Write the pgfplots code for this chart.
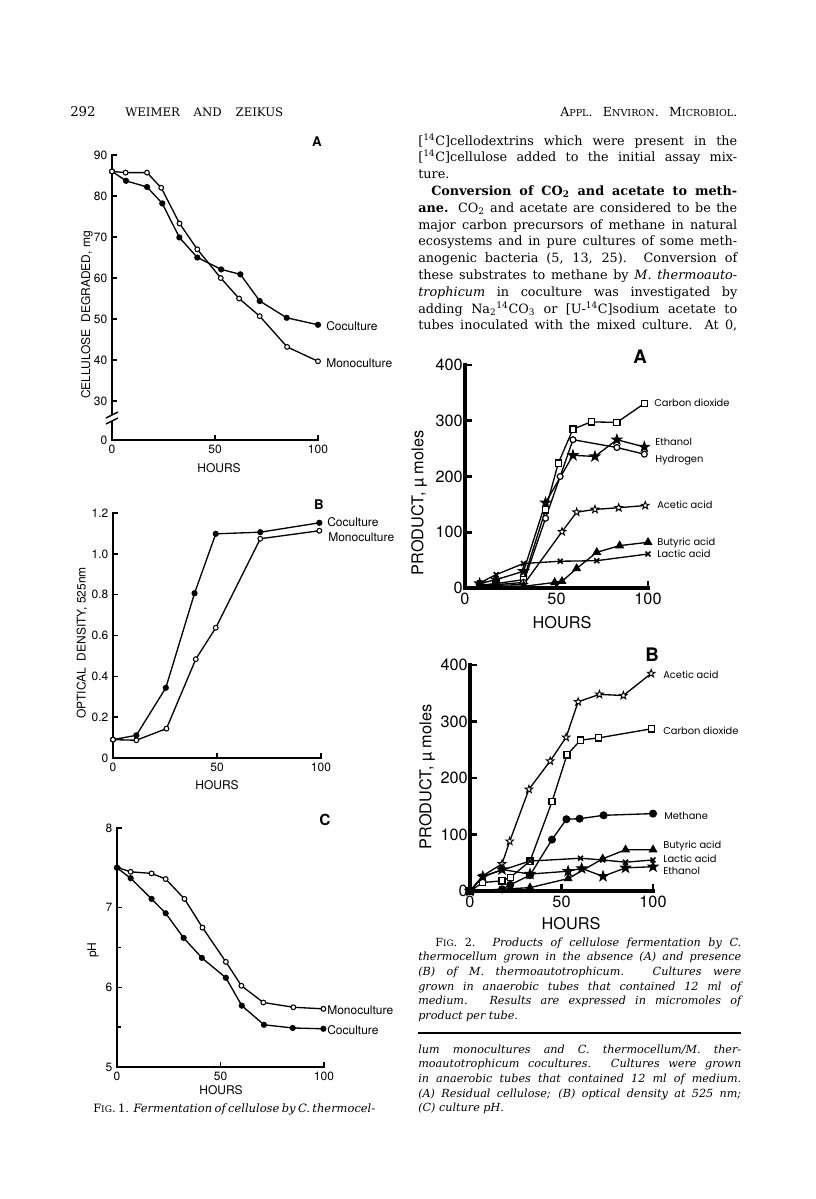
\documentclass[border=0pt]{standalone}
\usepackage{fontspec}
\setmainfont{DejaVu Serif}
\newfontfamily\heros{TeX Gyre Heros}
\newfontfamily\pop{Poppins}
\usepackage{graphicx}
\usepackage{pgfplots}
\pgfplotsset{compat=1.18}

% 1 px of the page = 0.75pt
\newdimen\pxu \pxu=0.75pt
\newsavebox\lb
% justified line: x, baseline y, width (px), text
\newcommand\jl[4]{%
  \sbox\lb{#4}%
  \ifdim\wd\lb>#3\pxu
    \pgfmathsetmacro\scf{(#3*0.75)/(\the\wd\lb)}%
    \node[anchor=base west,inner sep=0pt] at (#1,#2) {\scalebox{\scf}[1]{\usebox\lb}};%
  \else
    \node[anchor=base west,inner sep=0pt] at (#1,#2) {\makebox[#3\pxu][s]{#4}};%
  \fi}
\newcommand\lastl[3]{\node[anchor=base west,inner sep=0pt] at (#1,#2) {#3};}
\newcommand\bodyf{\fontsize{9.6}{12}\selectfont}
\newcommand\capf{\fontsize{8.4}{10}\selectfont\itshape}
\newcommand\fone{\heros\fontsize{9}{9}\selectfont}
\newcommand\ftwo{\heros\fontsize{12.2}{12.2}\selectfont}
\newcommand\flab{\pop\fontsize{7.4}{7.4}\selectfont}

\pgfdeclareplotmark{fstar}{%
  \pgfpathmoveto{\pgfpointpolar{90}{1.25\pgfplotmarksize}}%
  \pgfpathlineto{\pgfpointpolar{126}{0.5\pgfplotmarksize}}%
  \pgfpathlineto{\pgfpointpolar{162}{1.25\pgfplotmarksize}}%
  \pgfpathlineto{\pgfpointpolar{198}{0.5\pgfplotmarksize}}%
  \pgfpathlineto{\pgfpointpolar{234}{1.25\pgfplotmarksize}}%
  \pgfpathlineto{\pgfpointpolar{270}{0.5\pgfplotmarksize}}%
  \pgfpathlineto{\pgfpointpolar{306}{1.25\pgfplotmarksize}}%
  \pgfpathlineto{\pgfpointpolar{342}{0.5\pgfplotmarksize}}%
  \pgfpathlineto{\pgfpointpolar{18}{1.25\pgfplotmarksize}}%
  \pgfpathlineto{\pgfpointpolar{54}{0.5\pgfplotmarksize}}%
  \pgfpathclose\pgfusepathqfillstroke}

\tikzset{
  ln/.style={black, line width=1pt},
  oc/.style={ln, mark=*, mark size=1.8pt, mark options={fill=white, line width=0.8pt}},
  fc/.style={ln, mark=*, mark size=1.8pt, mark options={fill=black}},
  osq/.style={ln, mark=square*, mark size=2.3pt, mark options={fill=white, line width=0.9pt}},
  ocb/.style={ln, mark=*, mark size=2.2pt, mark options={fill=white, line width=0.9pt}},
  fcb/.style={ln, mark=*, mark size=2.5pt, mark options={fill=black}},
  ost/.style={ln, mark=fstar, mark size=2.4pt, mark options={fill=white, line width=0.7pt}},
  fst/.style={ln, mark=fstar, mark size=2.8pt, mark options={fill=black}},
  ftri/.style={ln, mark=triangle*, mark size=3pt, mark options={fill=black}},
  xm/.style={ln, mark=x, mark size=2.6pt, mark options={line width=1.2pt}},
}

\pgfplotsset{
  figone/.style={scale only axis, anchor=south west, clip=false,
    axis x line*=bottom, axis y line*=left,
    axis line style={line width=1.7pt, line cap=rect},
    tick style={line width=1.2pt, black}, tick align=inside,
    major tick length=3.5pt, minor tick length=3pt,
    ticklabel style={font=\fone},
    xmin=0, xmax=100, xtick={0,50,100}, xticklabels={0,50,100}},
  figtwo/.style={scale only axis, anchor=south west, clip=false,
    axis x line*=bottom, axis y line*=left,
    axis line style={line width=2.6pt, line cap=rect},
    tick style={line width=2pt, black}, tick align=inside,
    major tick length=5pt,
    ticklabel style={font=\ftwo},
    yticklabel style={inner xsep=1.5pt},
    xmin=0, xmax=100, xtick={0,50,100}, xticklabels={0,50,100},
    ymin=0, ymax=400, ytick={0,100,200,300,400},
    yticklabels={0,100,200,300,400}},
}

\begin{document}
\begin{tikzpicture}[x=0.75pt, y=-0.75pt]
\path[use as bounding box] (0,0) rectangle (816,1199);

% ---------------- page header ----------------
\lastl{70}{116}{\fontsize{10}{12}\selectfont 292}
\jl{125}{116}{158}{\fontsize{8.8}{12}\selectfont WEIMER AND ZEIKUS}
\jl{560}{116}{177}{\fontsize{9.4}{12}\selectfont A{\fontsize{7.2}{9}\selectfont PPL}. E{\fontsize{7.2}{9}\selectfont NVIRON}. M{\fontsize{7.2}{9}\selectfont ICROBIOL}.}

% ---------------- right column text ----------------
\jl{418}{145}{319}{\bodyf [\textsuperscript{14}C]cellodextrins which were present in the}
\jl{418}{161.8}{319}{\bodyf [\textsuperscript{14}C]cellulose added to the initial assay mix-}
\lastl{418}{178.6}{\bodyf ture.}
\jl{431}{195.4}{306}{\bodyf\bfseries Conversion of CO\textsubscript{2} and acetate to meth-}
\jl{418}{212.2}{319}{\bodyf \textbf{ane.} CO\textsubscript{2} and acetate are considered to be the}
\jl{418}{229}{319}{\bodyf major carbon precursors of methane in natural}
\jl{418}{245.8}{319}{\bodyf ecosystems and in pure cultures of some meth-}
\jl{418}{262.6}{319}{\bodyf anogenic bacteria (5, 13, 25). Conversion of}
\jl{418}{279.4}{319}{\bodyf these substrates to methane by \textit{M. thermoauto-}}
\jl{418}{296.2}{319}{\bodyf \textit{trophicum} in coculture was investigated by}
\jl{418}{313}{319}{\bodyf adding Na\textsubscript{2}\textsuperscript{14}CO\textsubscript{3} or [U-\textsuperscript{14}C]sodium acetate to}
\jl{418}{329.8}{319}{\bodyf tubes inoculated with the mixed culture. At 0,}

% ---------------- Fig. 1A ----------------
\begin{axis}[figone, at={(84pt,-330pt)}, width=154.5pt, height=213.75pt,
  ymin=20.5, ymax=90, ytick={20.5,30,40,50,60,70,80,90},
  yticklabels={0,30,40,50,60,70,80,90}]
\addplot[fc] coordinates {(0,86) (6.8,83.7) (17,82.2) (24.4,78.2) (32.7,69.9)
  (41.4,65) (53,62.1) (62.3,60.9) (71.7,54.4) (84.8,50.3) (100,48.6)};
\addplot[oc] coordinates {(0,86) (6.6,85.7) (17,85.7) (23.9,82) (32.8,73.3)
  (41.4,67) (52.8,60) (61.7,55) (71.7,50.7) (85,43.2) (100,39.7)};
\end{axis}
\fill[white] (109,415) rectangle (116,421);
\draw[line width=1.1pt] (106,424) -- (118,418);
\draw[line width=1.1pt] (106,418) -- (118,412);
\node[font=\fone] at (219,468) {HOURS};
\node[font=\fone, rotate=90] at (87,315) {CELLULOSE\ \ DEGRADED, mg};
\node[font=\heros\bfseries\fontsize{10}{10}\selectfont] at (317,142) {A};
\node[font=\fone, anchor=west, inner sep=0pt] at (326,326) {Coculture};
\node[font=\fone, anchor=west, inner sep=0pt] at (326,363) {Monoculture};

% ---------------- Fig. 1B ----------------
\begin{axis}[figone, at={(84.75pt,-568.5pt)}, width=156pt, height=183.75pt,
  ymin=0, ymax=1.2, ytick={0,0.2,0.4,0.6,0.8,1.0,1.2},
  yticklabels={0,0.2,0.4,0.6,0.8,1.0,1.2}]
\addplot[fc] coordinates {(0,0.09) (11.2,0.111) (25.4,0.344) (39.2,0.807)
  (49.4,1.098) (70.8,1.106) (99.2,1.152)};
\addplot[oc] coordinates {(0,0.09) (11.2,0.087) (25.7,0.144) (39.8,0.484)
  (49.4,0.638) (70.8,1.074) (99.2,1.113)};
\end{axis}
\node[font=\fone] at (217,785) {HOURS};
\node[font=\fone, rotate=90] at (82,643) {OPTICAL\ \ DENSITY, 525nm};
\node[font=\heros\bfseries\fontsize{10}{10}\selectfont] at (319,505) {B};
\node[font=\fone, anchor=west, inner sep=0pt] at (327,522) {Coculture};
\node[font=\fone, anchor=west, inner sep=0pt] at (328,537) {Monoculture};

% ---------------- Fig. 1C ----------------
\begin{axis}[figone, at={(87.75pt,-800.25pt)}, width=155.25pt, height=179.25pt,
  ymin=5, ymax=8, ytick={5,6,7,8}, yticklabels={5,6,7,8},
  minor ytick={5.5,6.5,7.5}]
\addplot[oc] coordinates {(0,7.505) (6.6,7.45) (16.7,7.43) (23.5,7.36) (32.6,7.11)
  (41.3,6.75) (52.6,6.32) (60.1,6.02) (70.7,5.81) (85.2,5.75) (99.7,5.73)};
\addplot[fc] coordinates {(0,7.5) (6.6,7.37) (16.7,7.11) (23.5,6.93) (32.2,6.62)
  (41,6.37) (52.6,6.12) (60.3,5.77) (71,5.53) (84.9,5.49) (99.7,5.48)};
\end{axis}
\node[font=\fone] at (221,1090) {HOURS};
\node[font=\fone, rotate=90] at (93,950) {pH};
\node[font=\heros\bfseries\fontsize{11.5}{11.5}\selectfont] at (325,820) {C};
\node[font=\fone, anchor=west, inner sep=0pt] at (327,1010) {Monoculture};
\node[font=\fone, anchor=west, inner sep=0pt] at (327,1030) {Coculture};
\jl{93}{1112}{282}{\fontsize{8.6}{10}\selectfont F{\fontsize{6.8}{8}\selectfont IG}. 1. \textit{Fermentation of cellulose by C. thermocel-}}

% ---------------- Fig. 2A ----------------
\begin{axis}[figtwo, at={(348.75pt,-441pt)}, width=137.25pt, height=167.25pt]
\addplot[osq] coordinates {(8,5) (17,8) (32,15) (44,140) (51,224) (59,285)
  (69,298) (83,297) (98,331)};
\addplot[ocb] coordinates {(8,3) (17,6) (32,10) (44,125) (52,200) (59,266)
  (83,252) (98,240)};
\addplot[fst] coordinates {(8,8) (17,15) (32,30) (44,153) (59,238) (71,236)
  (83,266) (98,253)};
\addplot[ost] coordinates {(8,5) (17,5) (32,6) (53,101) (61,136) (71,141)
  (84,144) (98.5,148)};
\addplot[ftri] coordinates {(8,2) (17,3) (32,3) (49,10) (53,12) (61,35)
  (72,64) (84.5,76) (100,82)};
\addplot[xm] coordinates {(8,9) (17,24) (32,44) (52,48) (72,49) (100,61)};
\end{axis}
\node[font=\ftwo] at (562,623) {HOURS};
\node[font=\ftwo, rotate=90] at (419,503) {PRODUCT, µ moles};
\node[font=\heros\bfseries\fontsize{14}{14}\selectfont] at (640,357) {A};
\node[font=\flab, anchor=west, inner sep=0pt] at (654,403) {Carbon dioxide};
\node[font=\flab, anchor=west, inner sep=0pt] at (655,442) {Ethanol};
\node[font=\flab, anchor=west, inner sep=0pt] at (655,460) {Hydrogen};
\node[font=\flab, anchor=west, inner sep=0pt] at (657,505) {Acetic acid};
\node[font=\flab, anchor=west, inner sep=0pt] at (657,543) {Butyric acid};
\node[font=\flab, anchor=west, inner sep=0pt] at (657,554) {Lactic acid};

% ---------------- Fig. 2B ----------------
\begin{axis}[figtwo, at={(352.5pt,-668.25pt)}, width=137.25pt, height=169.5pt]
\addplot[ost] coordinates {(0,0) (7,27) (17.5,48) (21.7,88) (32.2,180) (43.8,230)
  (52.5,272) (59.1,335) (70.7,348) (83.8,346) (99,385)};
\addplot[osq] coordinates {(0,0) (7,15) (17.5,18) (22,24) (32.8,53) (44.8,158)
  (53,241) (60.4,267) (70.3,271) (99,287)};
\addplot[fcb] coordinates {(0,0) (17.5,3) (22,11) (32.8,28) (44.8,91) (52.7,127)
  (59.9,128) (73,134) (100,137)};
\addplot[ftri] coordinates {(0,0) (32.8,6) (53.6,22) (72.5,57) (85,73) (100,73)};
\addplot[xm] coordinates {(0,0) (7,26) (17.5,37) (32.8,53) (60.4,58) (72.5,55)
  (85,51) (100,55)};
\addplot[fst] coordinates {(0,0) (7,25) (17.5,38) (32.8,30) (53.6,35) (61,40)
  (72.7,26) (85,41) (100,43)};
\end{axis}
\node[font=\ftwo] at (571,924) {HOURS};
\node[font=\ftwo, rotate=90] at (427,777) {PRODUCT, µ moles};
\node[font=\heros\bfseries\fontsize{14}{14}\selectfont] at (652,655) {B};
\node[font=\flab, anchor=west, inner sep=0pt] at (663,675) {Acetic acid};
\node[font=\flab, anchor=west, inner sep=0pt] at (663,731) {Carbon dioxide};
\node[font=\flab, anchor=west, inner sep=0pt] at (664,816) {Methane};
\node[font=\flab, anchor=west, inner sep=0pt] at (663,846) {Butyric acid};
\node[font=\flab, anchor=west, inner sep=0pt] at (663,859) {Lactic acid};
\node[font=\flab, anchor=west, inner sep=0pt] at (663,871) {Ethanol};

% ---------------- Fig. 2 caption and Fig. 1 caption end ----------------
\jl{435}{946}{306}{\capf {\upshape F{\fontsize{6.6}{8}\selectfont IG}. 2.} Products of cellulose fermentation by C.}
\jl{418}{960.7}{323}{\capf thermocellum grown in the absence (A) and presence}
\jl{418}{975.4}{323}{\capf (B) of M. thermoautotrophicum. Cultures were}
\jl{418}{990.1}{323}{\capf grown in anaerobic tubes that contained 12 ml of}
\jl{418}{1004.8}{323}{\capf medium. Results are expressed in micromoles of}
\lastl{418}{1019.5}{\capf product per tube.}
\draw[line width=0.8pt] (418,1033) -- (741,1033);
\jl{418}{1053}{323}{\capf lum monocultures and C. thermocellum/M. ther-}
\jl{418}{1067.7}{323}{\capf moautotrophicum cocultures. Cultures were grown}
\jl{418}{1082.4}{323}{\capf in anaerobic tubes that contained 12 ml of medium.}
\jl{418}{1097.1}{323}{\capf (A) Residual cellulose; (B) optical density at 525 nm;}
\lastl{418}{1111.8}{\capf (C) culture pH.}
\end{tikzpicture}
\end{document}
